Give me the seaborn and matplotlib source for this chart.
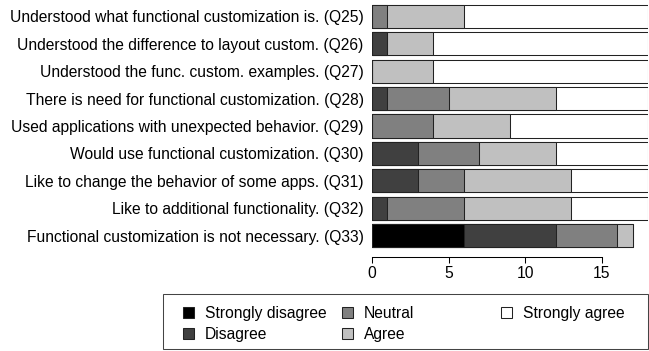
import matplotlib
matplotlib.use("Agg")
import matplotlib.pyplot as plt
from matplotlib.patches import Patch, Rectangle
import pandas as pd
import seaborn as sns

# --- survey answers (number of participants) ---
questions = [
    "Understood what functional customization is. (Q25)",
    "Understood the difference to layout custom. (Q26)",
    "Understood the func. custom. examples. (Q27)",
    "There is need for functional customization. (Q28)",
    "Used applications with unexpected behavior. (Q29)",
    "Would use functional customization. (Q30)",
    "Like to change the behavior of some apps. (Q31)",
    "Like to additional functionality. (Q32)",
    "Functional customization is not necessary. (Q33)",
]
strongly_disagree = [0, 0, 0, 0, 0, 0, 0, 0, 6]
disagree = [0, 1, 0, 1, 0, 3, 3, 1, 6]
neutral = [1, 0, 0, 4, 4, 4, 3, 5, 4]
agree = [5, 3, 4, 7, 5, 5, 7, 7, 1]
strongly_agree = [12, 14, 14, 6, 9, 6, 5, 5, 0]

levels = ["Strongly disagree", "Disagree", "Neutral", "Agree", "Strongly agree"]
colors = ["#000000", "#404040", "#808080", "#c0c0c0", "#ffffff"]
x_ticks = [0, 5, 10, 15]

df = pd.DataFrame({
    "question": questions,
    "Strongly disagree": strongly_disagree,
    "Disagree": disagree,
    "Neutral": neutral,
    "Agree": agree,
    "Strongly agree": strongly_agree,
})
cum = df[levels].cumsum(axis=1)

sns.set_style("white")
plt.rcParams["font.family"] = ["Liberation Sans", "DejaVu Sans"]
plt.rcParams["text.color"] = "black"
plt.rcParams["xtick.color"] = "black"
plt.rcParams["ytick.color"] = "black"

FS = 11.25

fig = plt.figure(figsize=(6.49, 3.51), dpi=100)
ax = fig.add_axes([372 / 649, 1 - 252 / 351, 276 / 649, 252 / 351])

# stacked bars: draw cumulative totals from right-most level down
for level, col in reversed(list(zip(levels, colors))):
    sns.barplot(x=cum[level], y=df["question"], orient="h", color=col,
                saturation=1, edgecolor="#222222", linewidth=0.75,
                width=0.85, errorbar=None, ax=ax)

ax.set_xlim(0, 18)
ax.set_ylim(8.6, -0.6)
ax.set_xlabel("")
ax.set_ylabel("")
ax.set_xticks(x_ticks)
for side in ["top", "right", "left"]:
    ax.spines[side].set_visible(False)
ax.spines["bottom"].set_position(("outward", 3.6))
ax.spines["bottom"].set_bounds(0, 15)
ax.spines["bottom"].set_color("black")
ax.spines["bottom"].set_linewidth(0.75)
ax.tick_params(axis="x", length=4, width=0.75, pad=2.5, labelsize=FS, bottom=True)
ax.tick_params(axis="y", length=0, pad=6, labelsize=FS)

# legend: three columns of equal width inside one frame
handles = {lv: Patch(facecolor=c, edgecolor="#222222", linewidth=0.75)
           for lv, c in zip(levels, colors)}
columns = [["Strongly disagree", "Disagree"], ["Neutral", "Agree"], ["Strongly agree"]]
col_x = [183 / 649, 342 / 649, 501 / 649]
for names, x in zip(columns, col_x):
    fig.legend(handles=[handles[n] for n in names], labels=names,
               loc="upper left", bbox_to_anchor=(x, 1 - 306 / 351),
               frameon=False, borderpad=0, borderaxespad=0,
               handlelength=0.7, handleheight=0.7, handletextpad=0.7,
               labelspacing=0.38, fontsize=FS)
fig.add_artist(Rectangle((163 / 649, 1 - 349 / 351), 485 / 649, 55 / 351,
                         transform=fig.transFigure, fill=False,
                         edgecolor="#444444", linewidth=0.75))

fig.savefig("out.png", dpi=100)
